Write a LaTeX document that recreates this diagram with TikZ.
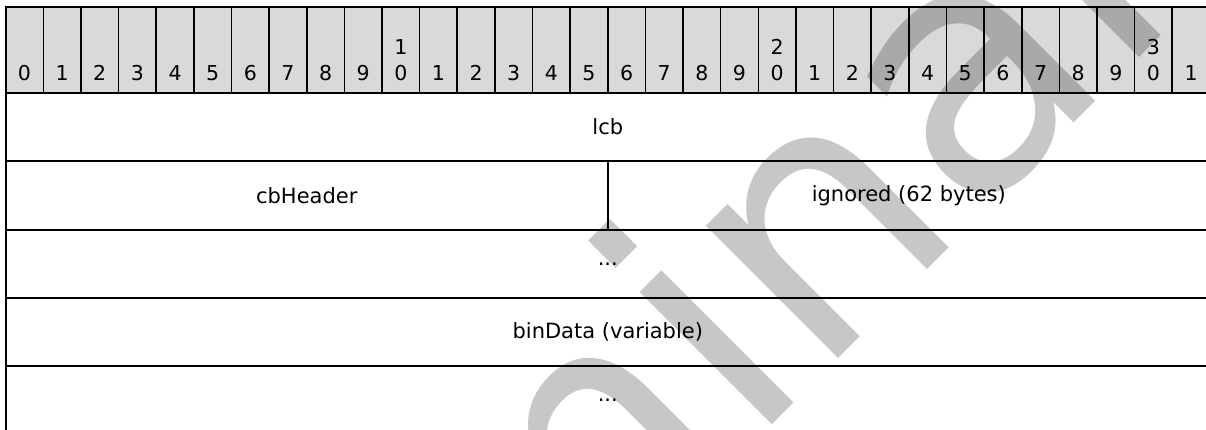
\documentclass[tikz,border=0pt]{standalone}
\usepackage{fontspec}
\setmainfont{DejaVu Sans}
\usetikzlibrary{positioning}

\begin{document}
\begin{tikzpicture}[x=1pt,y=-1pt]
\tikzset{bitcell/.style={draw, line width=1.6pt, fill=black!15, minimum width=37.63pt, minimum height=86pt, anchor=north west, inner sep=0pt, outer sep=0pt}}
\tikzset{bitnum/.style={anchor=south, inner sep=0pt, align=center, font=\fontsize{20.5}{26}\selectfont}}
\tikzset{field/.style={draw, line width=2pt, minimum height=68.3pt, inner sep=0pt, outer sep=0pt, font=\fontsize{21}{25}\selectfont}}
\tikzset{full/.style={minimum width=1204.16pt}}
\tikzset{half/.style={minimum width=602.08pt}}
\tikzset{stamp/.style={anchor=base west, rotate=45, inner sep=0pt, text=black, text opacity=0.22, font=\fontsize{342}{342}\selectfont}}
\useasboundingbox (0,0) rectangle (1206,430);
\clip (0,0) rectangle (1206,430);

% bit ruler
\foreach \lab [count=\n from 0] in {0,1,2,3,4,5,6,7,8,9,{1\\0},1,2,3,4,5,6,7,8,9,{2\\0},1,2,3,4,5,6,7,8,9,{3\\0},1} {
  \node[bitcell] (h\n) at ({5.7+37.63*\n},7) {};
  \node[bitnum] (n\n) at ({5.7+37.63*\n+18.8},80.5) {\lab};
}

% fields
\node[field, full, anchor=north west] (lcb) at (h0.south west) {lcb};
\node[field, half, below right=0pt of lcb.south west] (cbheader) {cbHeader};
\node[field, half, right=0pt of cbheader] (ignored) {ignored (62 bytes)};
\node[field, full, below right=0pt of cbheader.south west] (more1) {...};
\node[field, full, below=0pt of more1] (bindata) {binData (variable)};
\node[field, full, below=0pt of bindata] (more2) {...};

% watermark
\node[stamp] (mark) at (-5.6,1202.6) {Preliminary};
\end{tikzpicture}
\end{document}
